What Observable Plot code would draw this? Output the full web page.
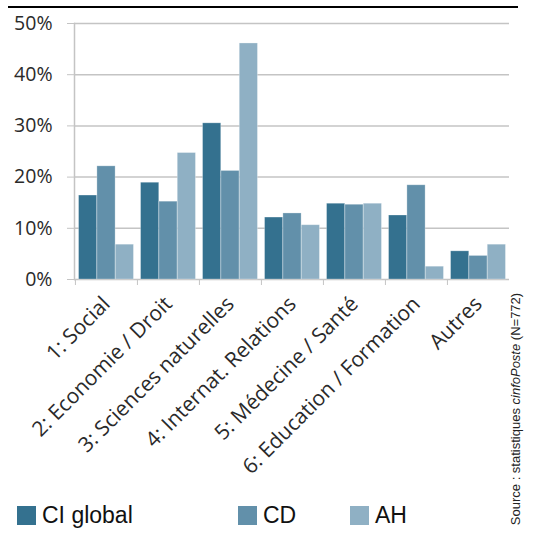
<!DOCTYPE html>
<html>
<head>
<meta charset="utf-8">
<script src="https://cdn.jsdelivr.net/npm/d3@7"></script>
<script src="https://cdn.jsdelivr.net/npm/@observablehq/plot@0.6"></script>
<style>
  html, body { margin: 0; padding: 0; background: #fff; }
  #wrap { position: relative; width: 535px; height: 538px; overflow: hidden; }
  #topline { position: absolute; left: 8px; top: 6px; width: 510px; height: 2px; background: #000; }
  #chart { position: absolute; left: 0; top: 0; }
  .leg { position: absolute; top: 502px; display: flex; align-items: center; font-family: "Liberation Sans", Arial, sans-serif; font-size: 23px; color: #111; }
  .leg span.sw { display: inline-block; width: 19px; height: 19px; margin-right: 6px; }
  #source { position: absolute; left: 515px; top: 409px; transform: translate(-50%, -50%) rotate(-90deg); white-space: nowrap; font-family: "Liberation Sans", Arial, sans-serif; font-size: 13px; color: #222; }
</style>
</head>
<body>
<div id="wrap">
  <div id="chart"></div>
  <div id="topline"></div>
  <div id="legend"></div>
  <div id="source">Source : statistiques <i>cinfoPoste</i> (N=772)</div>
</div>
<script>
const categories = ["1: Social", "2: Economie / Droit", "3: Sciences naturelles", "4: Internat. Relations", "5: Médecine / Santé", "6: Education / Formation", "Autres"];
const series = ["CI global", "CD", "AH"];
const ciGlobal = [16.4, 18.9, 30.5, 12.1, 14.8, 12.5, 5.5];
const cd = [22.1, 15.2, 21.2, 12.9, 14.6, 18.4, 4.6];
const ah = [6.8, 24.7, 46.1, 10.6, 14.8, 2.5, 6.8];
const colors = ["#34718f", "#6290aa", "#8fb0c4"];
const yTicks = [0, 10, 20, 30, 40, 50];

const valuesBySeries = [ciGlobal, cd, ah];
const rows = [];
series.forEach((s, j) => categories.forEach((c, i) => rows.push({cat: c, series: s, value: valuesBySeries[j][i]})));

const W = 535, H = 495;
const mL = 74, mR = 26, mT = 23, mB = H - 279;
const step = (W - mL - mR) / categories.length;
const barW = 18.35;
const inset = (step - barW) / 2;

const barMarks = series.map((s, j) => Plot.barY(rows.filter(d => d.series === s), {
  x: "cat", y: "value", fill: "series",
  dx: (j - 1) * barW, insetLeft: inset, insetRight: inset,
  stroke: "#fff", strokeOpacity: 0.35, strokeWidth: 0.8
}));

const chart = Plot.plot({
  width: W, height: H,
  marginLeft: mL, marginRight: mR, marginTop: mT, marginBottom: mB,
  style: {fontFamily: "'Open Sans', sans-serif", background: "transparent"},
  x: {domain: categories, padding: 0, axis: null},
  y: {domain: [0, 50], axis: null},
  color: {domain: series, range: colors},
  marks: [
    Plot.gridY(yTicks, {stroke: "#c4c4c4", strokeOpacity: 1, strokeWidth: 1.5}),
    Plot.frame({anchor: "left", stroke: "#c4c4c4", strokeWidth: 1.5}),
    Plot.axisY(yTicks, {tickSize: 7, tickPadding: 15, tickFormat: d => d + "%", stroke: "#c4c4c4", fill: "#2a2a2a", fontSize: 19.5, label: null}),
    Plot.axisX({tickSize: 6, fill: "none", stroke: "#c4c4c4", dx: -step / 2, label: null}),
    ...barMarks,
    Plot.axisX({tickSize: 0, tickPadding: 21, tickRotate: -45, fill: "#2a2a2a", fontSize: 21, label: null})
  ]
});
document.getElementById("chart").appendChild(chart);

const legendPos = [17, 238, 350];
const legend = document.getElementById("legend");
series.forEach((s, j) => {
  const d = document.createElement("div");
  d.className = "leg";
  d.style.left = legendPos[j] + "px";
  d.innerHTML = `<span class="sw" style="background:${colors[j]}"></span><span>${s}</span>`;
  legend.appendChild(d);
});
</script>
</body>
</html>
